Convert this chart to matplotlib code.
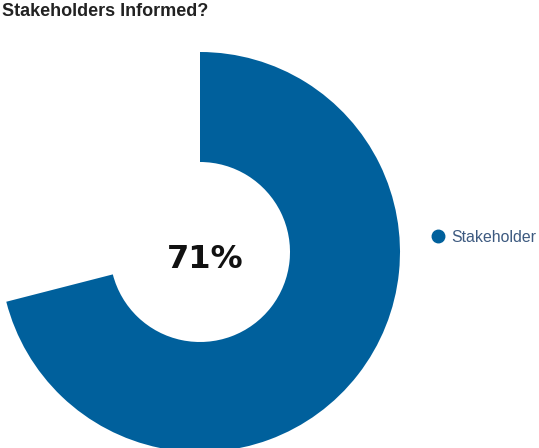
import matplotlib
matplotlib.use("Agg")
import matplotlib.pyplot as plt
from matplotlib.lines import Line2D

# Share of stakeholders informed; the remainder is left blank
categories = ["Stakeholder", "Remaining"]
values = [71, 29]
title = "Stakeholders Informed?"
series_color = "#00609c"

W, H = 539, 448
fig = plt.figure(figsize=(W / 100, H / 100), dpi=100)
ax = fig.add_axes([0, 0, 1, 1])

wedges, _ = ax.pie(
    values,
    colors=[series_color, "none"],
    startangle=90,
    counterclock=False,
    center=(200, H - 252),
    radius=200,
    wedgeprops=dict(width=110, linewidth=0),
    frame=True,
)
ax.set_xlim(0, W)
ax.set_ylim(0, H)
ax.set_aspect("equal")
ax.axis("off")

ax.text(205, H - 259.5, f"{values[0]}%", ha="center", va="center",
        fontsize=23, fontweight="bold", family="DejaVu Sans", color="#111111")

fig.text(2 / W, 1 - 3 / H, title, ha="left", va="top",
         fontsize=13, fontweight="bold", family="Liberation Sans", color="#222222")

handle = Line2D([], [], marker="o", linestyle="none", markersize=9,
                markerfacecolor=series_color, markeredgecolor=series_color)
leg = ax.legend([handle], [categories[0]], loc="center left",
                bbox_to_anchor=(432 / W, 1 - 237 / H), frameon=False,
                borderpad=0, borderaxespad=0, handlelength=0.8,
                handletextpad=0.4, prop=dict(family="Liberation Sans", size=11.4))
for t in leg.get_texts():
    t.set_color("#3d5a80")

fig.savefig("out.png", dpi=100)
